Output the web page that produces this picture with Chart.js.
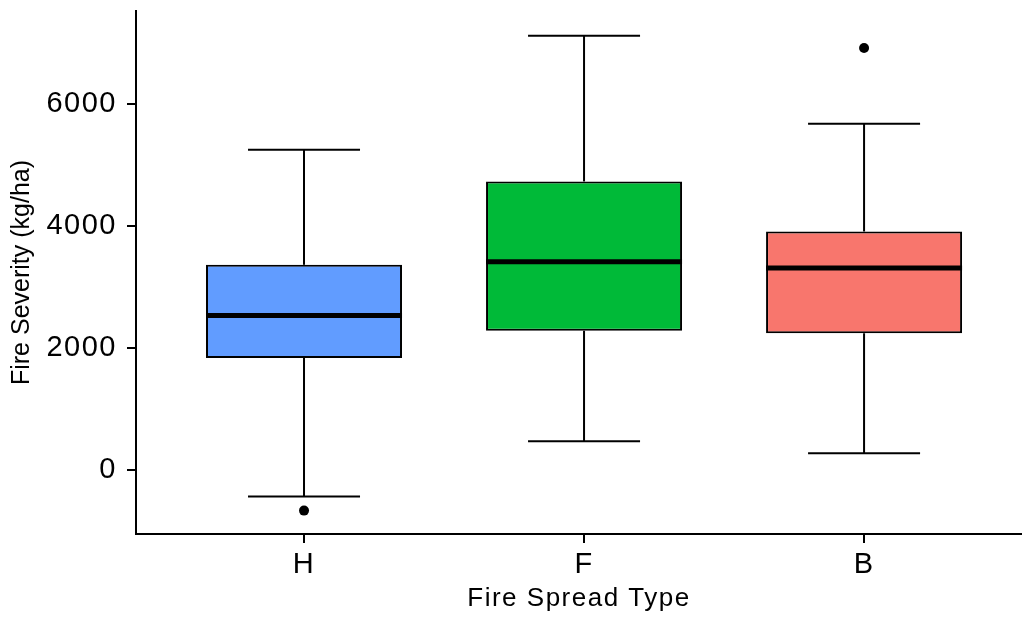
<!DOCTYPE html>
<html>
<head>
<meta charset="utf-8">
<script src="https://cdn.jsdelivr.net/npm/chart.js@4.4.1/dist/chart.umd.min.js"></script>
<style>
  html, body { margin: 0; padding: 0; background: #ffffff; }
  #wrap { width: 1022px; height: 620px; }
</style>
</head>
<body>
<div id="wrap"><canvas id="chart" width="1022" height="620"></canvas></div>
<script>
// Five-number summaries per fire spread type (kg/ha)
const categories = ['H', 'F', 'B'];
const lowerWhisker = [-438, 471, 274];
const lowerQuartile = [1838, 2282, 2244];
const medians = [2533, 3414, 3311];
const upperQuartile = [3365, 4733, 3912];
const upperWhisker = [5253, 7124, 5680];
const outliers = [[-668], [], [6922]];
const yTickValues = [0, 2000, 4000, 6000];

// Styling
const boxColors = ['#619CFF', '#00BA38', '#F8766D'];
const BOX_HALF = 0.35;   // half box width in category units
const CAP_HALF = 0.2;    // half whisker-cap width
const FONT = "'Liberation Sans', Arial, Helvetica, sans-serif";
const INK = '#000000';
const TRACKING = '1.5px'; // extra spacing for horizontal text

const positions = categories.map((_, i) => i + 1);

function segment(x0, y0, x1, y1, width) {
  return {
    type: 'line',
    data: [{ x: x0, y: y0 }, { x: x1, y: y1 }],
    borderColor: INK,
    borderWidth: width,
    pointRadius: 0,
    pointHoverRadius: 0,
    fill: false,
    order: width > 3 ? 1 : 3
  };
}

const datasets = [];

// Boxes: floating bars from lower to upper quartile
datasets.push({
  type: 'bar',
  data: positions.map((x, i) => ({ x: x, y: [lowerQuartile[i], upperQuartile[i]] })),
  backgroundColor: boxColors,
  borderColor: INK,
  borderWidth: 2,
  borderSkipped: false,
  categoryPercentage: 1,
  barPercentage: 2 * BOX_HALF,
  order: 2
});

// Whiskers, caps and median lines
positions.forEach((x, i) => {
  datasets.push(segment(x, upperQuartile[i], x, upperWhisker[i], 2));
  datasets.push(segment(x, lowerQuartile[i], x, lowerWhisker[i], 2));
  datasets.push(segment(x - CAP_HALF, upperWhisker[i], x + CAP_HALF, upperWhisker[i], 2));
  datasets.push(segment(x - CAP_HALF, lowerWhisker[i], x + CAP_HALF, lowerWhisker[i], 2));
  datasets.push(segment(x - BOX_HALF, medians[i], x + BOX_HALF, medians[i], 5));
});

// Outlying observations
const outlierPoints = [];
positions.forEach((x, i) => outliers[i].forEach(v => outlierPoints.push({ x: x, y: v })));
datasets.push({
  type: 'line',
  data: outlierPoints,
  showLine: false,
  pointRadius: 5,
  pointHoverRadius: 5,
  pointBackgroundColor: INK,
  pointBorderWidth: 0,
  order: 0
});

function axisCommon() {
  return {
    offset: false,
    grid: {
      offset: false,
      drawOnChartArea: false,
      drawTicks: true,
      tickLength: 9,
      tickWidth: 2,
      lineWidth: 2,
      color: INK
    },
    border: { display: true, color: INK, width: 2 }
  };
}

// Slightly wider tracking for horizontal labels; the rotated y title keeps normal spacing
const textTracking = {
  id: 'textTracking',
  beforeDraw(chart) {
    chart.ctx.letterSpacing = TRACKING;
    const ys = chart.scales.y;
    if (ys && !ys._plainTitle) {
      const drawTitle = ys.drawTitle;
      ys.drawTitle = function () {
        const ctx = this.ctx;
        const prev = ctx.letterSpacing;
        ctx.letterSpacing = '0px';
        drawTitle.call(this);
        ctx.letterSpacing = prev;
      };
      ys._plainTitle = true;
    }
  }
};

new Chart(document.getElementById('chart'), {
  type: 'bar',
  data: { datasets: datasets },
  plugins: [textTracking],
  options: {
    responsive: false,
    animation: false,
    devicePixelRatio: 1,
    layout: { autoPadding: false, padding: { top: 11, right: 0, bottom: 0, left: 0 } },
    plugins: { legend: { display: false }, tooltip: { enabled: false } },
    scales: {
      x: Object.assign(axisCommon(), {
        type: 'linear',
        min: 0.4,
        max: 3.564,
        afterBuildTicks: s => { s.ticks = positions.map(v => ({ value: v })); },
        afterFit: s => { s.height = 86; s.paddingLeft = 0; s.paddingRight = 0; },
        ticks: {
          autoSkip: false,
          maxRotation: 0,
          padding: 5,
          color: INK,
          font: { family: FONT, size: 29 },
          callback: v => categories[Math.round(v) - 1]
        },
        title: {
          display: true,
          text: 'Fire Spread Type',
          color: INK,
          font: { family: FONT, size: 26 },
          padding: { top: 0, bottom: 6 }
        }
      }),
      y: Object.assign(axisCommon(), {
        type: 'linear',
        min: -1052,
        max: 7530,
        afterBuildTicks: s => { s.ticks = yTickValues.map(v => ({ value: v })); },
        afterFit: s => { s.width = 136; s.paddingTop = 0; s.paddingBottom = 0; },
        ticks: {
          padding: 10,
          color: INK,
          font: { family: FONT, size: 29 },
          callback: v => String(v)
        },
        title: {
          display: true,
          text: 'Fire Severity (kg/ha)',
          color: INK,
          font: { family: FONT, size: 25 },
          padding: { top: 7, bottom: 0 }
        }
      })
    }
  }
});
</script>
</body>
</html>
